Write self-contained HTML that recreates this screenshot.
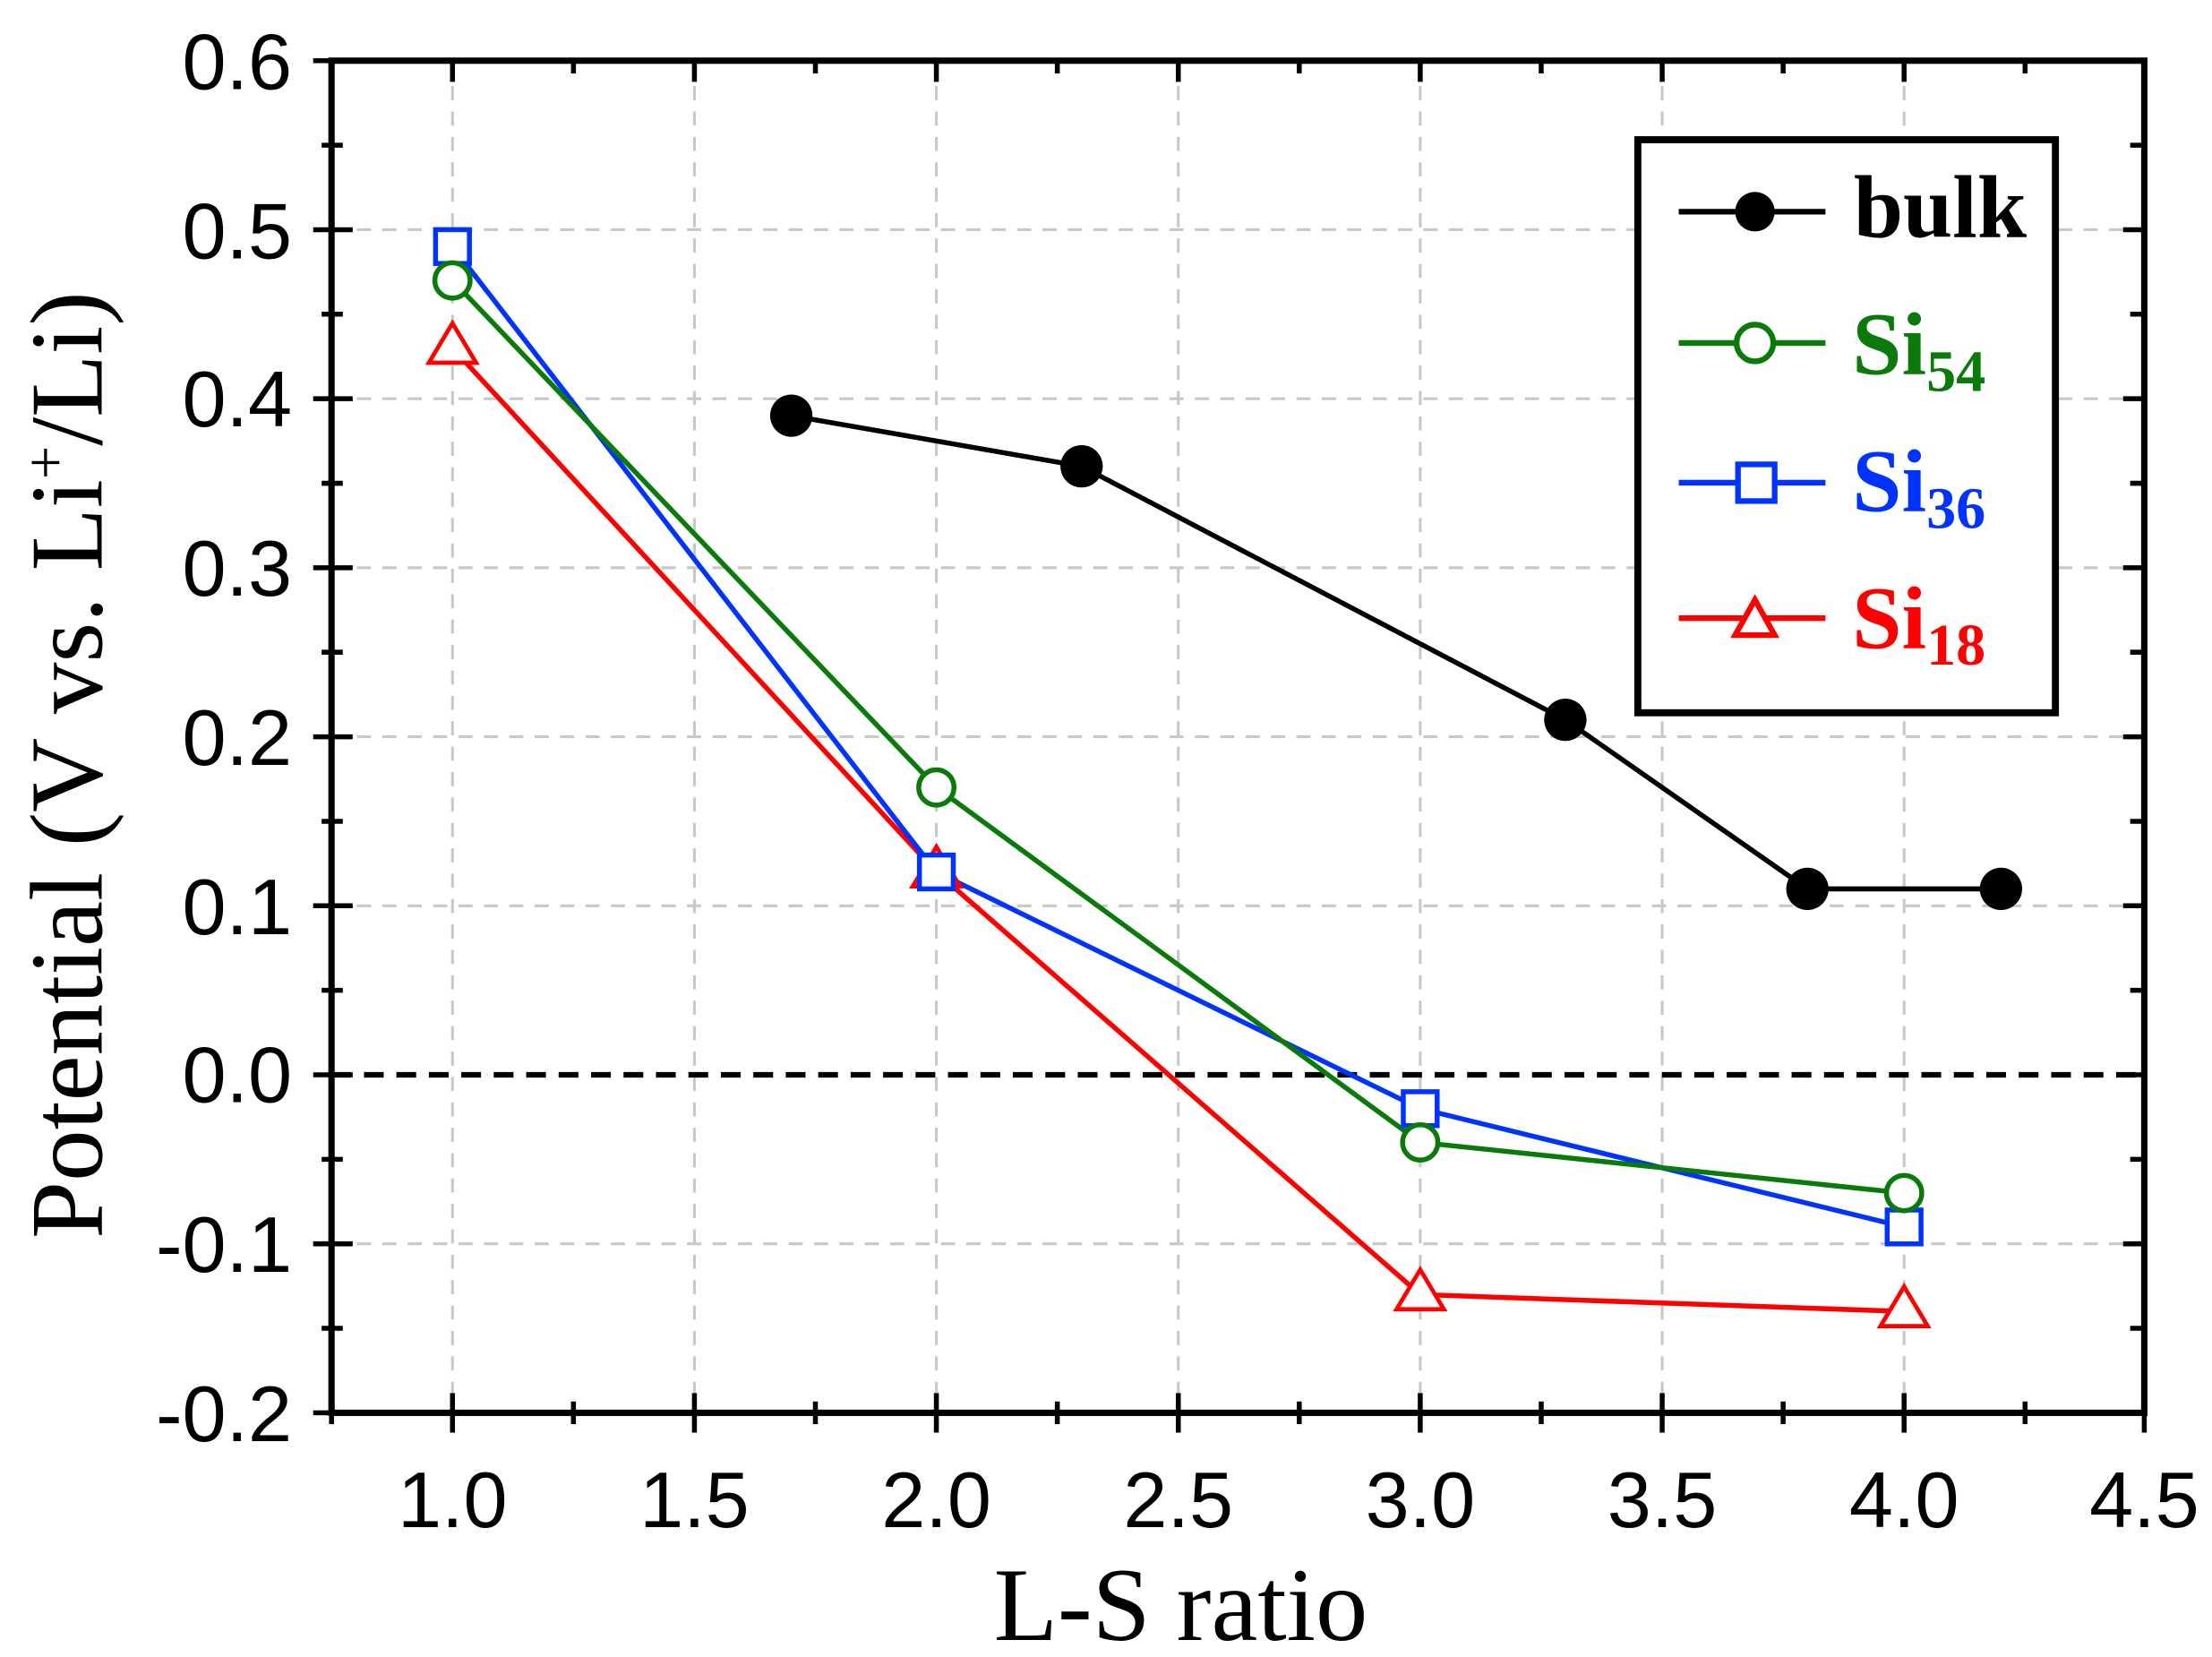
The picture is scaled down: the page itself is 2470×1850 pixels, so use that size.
<!DOCTYPE html>
<html><head><style>html,body{margin:0;padding:0;background:#fff}svg{display:block}</style></head>
<body>
<svg width="2470" height="1850" viewBox="0 0 1568 1174" preserveAspectRatio="none" xmlns="http://www.w3.org/2000/svg">
<rect width="1568" height="1174" fill="#fff"/>
<g stroke="#c8c8c8" stroke-width="2" stroke-dasharray="10,8">
<line x1="320.75" y1="43" x2="320.75" y2="1001"/><line x1="492.25" y1="43" x2="492.25" y2="1001"/>
<line x1="663.75" y1="43" x2="663.75" y2="1001"/><line x1="835.25" y1="43" x2="835.25" y2="1001"/>
<line x1="1006.75" y1="43" x2="1006.75" y2="1001"/><line x1="1178.25" y1="43" x2="1178.25" y2="1001"/>
<line x1="1349.75" y1="43" x2="1349.75" y2="1001"/>
<line x1="235" y1="162.75" x2="1520" y2="162.75"/><line x1="235" y1="282.5" x2="1520" y2="282.5"/>
<line x1="235" y1="402.25" x2="1520" y2="402.25"/><line x1="235" y1="522" x2="1520" y2="522"/>
<line x1="235" y1="641.75" x2="1520" y2="641.75"/><line x1="235" y1="881.25" x2="1520" y2="881.25"/>
</g>
<line x1="235" y1="761.5" x2="1520" y2="761.5" stroke="#000" stroke-width="4" stroke-dasharray="14,9"/>
<g stroke="#000" stroke-width="3.5">
<path d="M222 43H250M222 162.75H250M222 282.5H250M222 402.25H250M222 522H250M222 641.75H250M222 761.5H250M222 881.25H250M222 1001H250"/>
<path d="M228 102.9H243M228 222.6H243M228 342.4H243M228 462.1H243M228 581.9H243M228 701.6H243M228 821.4H243M228 941.1H243"/>
<path d="M1505 162.75H1520M1505 282.5H1520M1505 402.25H1520M1505 522H1520M1505 641.75H1520M1505 761.5H1520M1505 881.25H1520M1510 102.9H1520M1510 222.6H1520M1510 342.4H1520M1510 462.1H1520M1510 581.9H1520M1510 701.6H1520M1510 821.4H1520M1510 941.1H1520"/>
<path d="M320.75 987V1015M492.25 987V1015M663.75 987V1015M835.25 987V1015M1006.75 987V1015M1178.25 987V1015M1349.75 987V1015M1520 987V1015"/>
<path d="M406.5 993V1009M578 993V1009M749.5 993V1009M921 993V1009M1092.5 993V1009M1264 993V1009M1435.5 993V1009M235 993V1009"/>
<path d="M320.75 43V58M492.25 43V58M663.75 43V58M835.25 43V58M1006.75 43V58M1178.25 43V58M1349.75 43V58M406.5 43V52M578 43V52M749.5 43V52M921 43V52M1092.5 43V52M1264 43V52M1435.5 43V52"/>
</g>
<rect x="235" y="43" width="1285" height="958" fill="none" stroke="#000" stroke-width="4.5"/>
<g font-family="Liberation Sans, sans-serif" font-size="56" fill="#000" text-anchor="end">
<text x="207" y="63">0.6</text><text x="207" y="183">0.5</text><text x="207" y="302">0.4</text>
<text x="207" y="422">0.3</text><text x="207" y="542">0.2</text><text x="207" y="662">0.1</text>
<text x="207" y="781">0.0</text><text x="207" y="901">-0.1</text><text x="207" y="1021">-0.2</text>
</g>
<g font-family="Liberation Sans, sans-serif" font-size="56" fill="#000" text-anchor="middle">
<text x="320.75" y="1082">1.0</text><text x="492.25" y="1082">1.5</text><text x="663.75" y="1082">2.0</text>
<text x="835.25" y="1082">2.5</text><text x="1006.75" y="1082">3.0</text><text x="1178.25" y="1082">3.5</text>
<text x="1349.75" y="1082">4.0</text><text x="1520" y="1082">4.5</text>
</g>
<text x="837" y="1162" font-family="Liberation Serif, serif" font-size="74" text-anchor="middle">L-S ratio</text>
<text transform="translate(72,542) rotate(-90)" font-family="Liberation Serif, serif" font-size="73" text-anchor="middle">Potential (V vs. Li<tspan dy="-26" font-size="42">+</tspan><tspan dy="26">/Li)</tspan></text>
<polyline points="560.9,294.5 766.7,330.4 1109.6,510 1281.2,629.8 1418.4,629.8" fill="none" stroke="#000" stroke-width="3.5"/>
<g fill="#000"><circle cx="560.9" cy="294.5" r="15"/><circle cx="766.7" cy="330.4" r="15"/><circle cx="1109.6" cy="510" r="15"/><circle cx="1281.2" cy="629.8" r="15"/><circle cx="1418.4" cy="629.8" r="15"/></g>
<polyline points="320.75,246.6 663.75,617.8 1006.75,917.2 1349.75,929.2" fill="none" stroke="#ff0000" stroke-width="3.5"/>
<polyline points="320.75,174.7 663.75,617.8 1006.75,785.5 1349.75,869.3" fill="none" stroke="#0033ff" stroke-width="3.5"/>
<polyline points="320.75,198.7 663.75,557.9 1006.75,809.4 1349.75,845.3" fill="none" stroke="#0a7a0a" stroke-width="3.5"/>
<g fill="#fff" stroke="#ff0000" stroke-width="3">
<polygon points="320.75,229 304,257 337.5,257"/><polygon points="663.75,600 647,628 680.5,628"/><polygon points="1006.75,899.6 990,927.6 1023.5,927.6"/><polygon points="1349.75,911.6 1333,939.6 1366.5,939.6"/>
</g>
<g fill="#fff" stroke="#0033ff" stroke-width="3.5">
<rect x="308.75" y="162.7" width="24" height="24"/><rect x="651.75" y="605.8" width="24" height="24"/><rect x="994.75" y="773.5" width="24" height="24"/><rect x="1337.75" y="857.3" width="24" height="24"/>
</g>
<g fill="#fff" stroke="#0a7a0a" stroke-width="3.5">
<circle cx="320.75" cy="198.7" r="12.5"/><circle cx="663.75" cy="557.9" r="12.5"/><circle cx="1006.75" cy="809.4" r="12.5"/><circle cx="1349.75" cy="845.3" r="12.5"/>
</g>
<rect x="1161" y="99" width="296" height="406" fill="#fff" stroke="#000" stroke-width="5"/>
<g stroke-width="4">
<line x1="1190" y1="150" x2="1294" y2="150" stroke="#000"/>
<circle cx="1244" cy="150" r="14" fill="#000"/>
<line x1="1190" y1="243" x2="1294" y2="243" stroke="#0a7a0a"/>
<circle cx="1244" cy="243" r="13" fill="#fff" stroke="#0a7a0a" stroke-width="4"/>
<line x1="1190" y1="342" x2="1294" y2="342" stroke="#0033ff"/>
<rect x="1232" y="329" width="26" height="26" fill="#fff" stroke="#0033ff" stroke-width="4"/>
<line x1="1190" y1="438" x2="1294" y2="438" stroke="#ff0000"/>
<polygon points="1244,425 1230,450 1258,450" fill="#fff" stroke="#ff0000" stroke-width="4"/>
</g>
<g font-family="Liberation Serif, serif" font-weight="bold" font-size="63">
<text x="1314" y="168" fill="#000">bulk</text>
<text x="1313" y="265" fill="#0a7a0a">Si<tspan font-size="42" dy="12">54</tspan></text>
<text x="1313" y="362" fill="#0033ff">Si<tspan font-size="42" dy="12">36</tspan></text>
<text x="1313" y="459" fill="#ff0000">Si<tspan font-size="42" dy="12">18</tspan></text>
</g>
</svg>
</body></html>
